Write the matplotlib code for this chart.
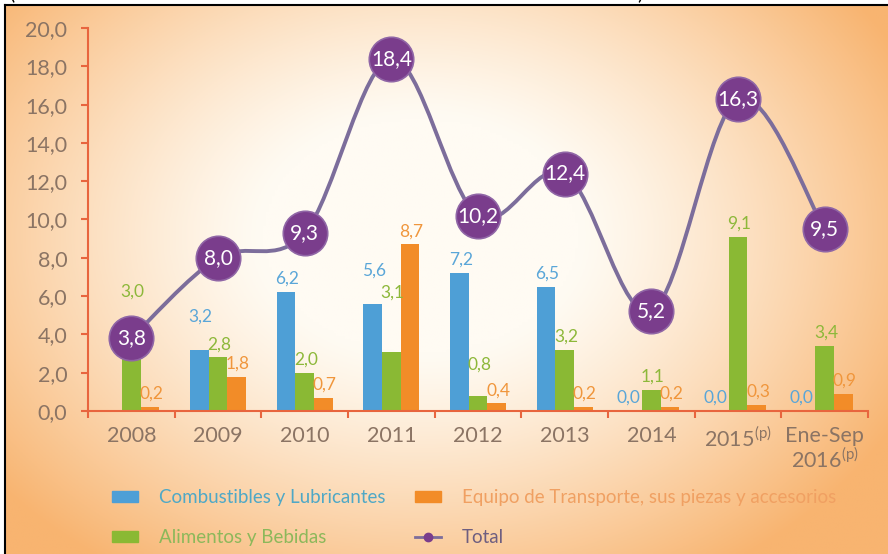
"""Importaciones por grupo de producto, 2008 - Ene-Sep 2016"""

import numpy as np
import matplotlib.pyplot as plt
from matplotlib.path import Path
from matplotlib.patches import PathPatch, Patch
from matplotlib.lines import Line2D
from matplotlib.ticker import FuncFormatter

YEARS = ["2008", "2009", "2010", "2011", "2012", "2013", "2014",
         "2015$^{\\mathregular{(p)}}$", "Ene-Sep\n2016$^{\\mathregular{(p)}}$"]
COMBUSTIBLES = [np.nan, 3.2, 6.2, 5.6, 7.2, 6.5, 0.0, 0.0, 0.0]
ALIMENTOS = [3.0, 2.8, 2.0, 3.1, 0.8, 3.2, 1.1, 9.1, 3.4]
EQUIPO = [0.2, 1.8, 0.7, 8.7, 0.4, 0.2, 0.2, 0.3, 0.9]
TOTAL = [3.8, 8.0, 9.3, 18.4, 10.2, 12.4, 5.2, 16.3, 9.5]

BLUE = "#4e9fd6"
GREEN = "#8ab934"
ORANGE = "#f28c28"
PURPLE = "#7a3d8c"
LINE = "#7c6d9b"
SPINE = "#e8653e"
TICK = "#8b7464"

# extra lift (points) for labels that are raised in the original to avoid overlaps
LIFT = {("c", 1): 14, ("c", 3): 14, ("a", 3): 33, ("a", 4): 13, ("a", 0): 35}

plt.rcParams["font.family"] = ["Lato", "DejaVu Sans"]
plt.rcParams["mathtext.fontset"] = "custom"
plt.rcParams["mathtext.rm"] = "Lato"


def fmt(v):
    return f"{v:.1f}".replace(".", ",")


fig = plt.figure(figsize=(8.88, 5.54), dpi=100, facecolor="white")

# background gradient inside the black frame
bg = fig.add_axes([5 / 888, 0, 1 - 5 / 888, 1 - 5 / 554], zorder=-5)
u, v = np.meshgrid(np.linspace(0, 1, 300), np.linspace(0, 1, 200))
d = np.sqrt(((u - 0.47) / 0.6) ** 2 + ((v - 0.42) / 0.72) ** 2)
t = np.clip((d - 0.3) / 0.72, 0, 1) ** 1.2
light = np.array([255, 251, 243]) / 255
dark = np.array([248, 180, 112]) / 255
img = light[None, None, :] * (1 - t[..., None]) + dark[None, None, :] * t[..., None]
bg.imshow(img, aspect="auto", extent=[0, 1, 0, 1], origin="upper")
bg.axis("off")

# frame lines and cut-off brackets from the original crop
fig.add_artist(Line2D([5 / 888, 1], [1 - 5 / 554] * 2, color="black", lw=1.5))
fig.add_artist(Line2D([5 / 888] * 2, [0, 1 - 5 / 554], color="black", lw=1.5))
fig.text(12 / 888, 1.012, "(", fontsize=14, ha="center", va="center", color="black")
fig.text(640 / 888, 1.012, ")", fontsize=14, ha="center", va="center", color="black")

ax = fig.add_axes([88 / 888, 1 - 411 / 554, 780 / 888, 383 / 554])
ax.patch.set_alpha(0)

x = np.arange(len(YEARS))
w = 0.215
ax.bar(x - w, COMBUSTIBLES, w, color=BLUE, zorder=2)
ax.bar(x, ALIMENTOS, w, color=GREEN, zorder=2)
ax.bar(x + w, EQUIPO, w, color=ORANGE, zorder=2)

for key, vals, off, col in [("c", COMBUSTIBLES, -w, "#5aa6d8"), ("a", ALIMENTOS, 0, "#8db83a"),
                            ("e", EQUIPO, w, "#f0963c")]:
    for i, (xi, val) in enumerate(zip(x, vals)):
        if np.isnan(val):
            continue
        dx = -3 if val == 0 else 1
        dy = 9.5 + LIFT.get((key, i), 0)
        ax.annotate(fmt(val), (xi + off, val), xytext=(dx, dy), textcoords="offset points",
                    ha="center", va="center", fontsize=12.5, color=col, zorder=3)

# smooth total line (Catmull-Rom through the points)
pts = np.column_stack([x, TOTAL]).astype(float)
ext = np.vstack([pts[0], pts, pts[-1]])
verts = [pts[0]]
codes = [Path.MOVETO]
for i in range(len(pts) - 1):
    p0, p1, p2, p3 = ext[i], ext[i + 1], ext[i + 2], ext[i + 3]
    verts += [p1 + (p2 - p0) / 6, p2 - (p3 - p1) / 6, p2]
    codes += [Path.CURVE4] * 3
ax.add_patch(PathPatch(Path(verts, codes), facecolor="none", edgecolor=LINE,
                       lw=2.8, zorder=4))
ax.plot(x, TOTAL, "o", ms=32, color=PURPLE, mec="#9066a6", mew=1.2, zorder=5)
for xi, val in zip(x, TOTAL):
    ax.text(xi, val, fmt(val), ha="center", va="center", color="white",
            fontsize=15, zorder=6)

ax.set_xlim(-0.5, len(YEARS) - 0.5)
ax.set_ylim(0, 20)
ax.set_yticks(np.arange(0, 21, 2))
ax.yaxis.set_major_formatter(FuncFormatter(lambda v, p: fmt(v)))
ax.set_xticks(x)
ax.set_xticklabels(YEARS, linespacing=1.05)
ax.set_xticks(np.arange(-0.5, len(YEARS), 1), minor=True)
ax.tick_params(axis="x", which="major", length=0, pad=11, labelsize=15.5, labelcolor=TICK)
ax.tick_params(axis="x", which="minor", length=5, width=1.5, color=SPINE)
ax.tick_params(axis="y", length=5, width=1.5, color=SPINE, pad=10, labelsize=15.5,
               labelcolor=TICK)
for s in ["top", "right"]:
    ax.spines[s].set_visible(False)
for s in ["left", "bottom"]:
    ax.spines[s].set_color(SPINE)
    ax.spines[s].set_linewidth(1.5)

# legend, two columns placed separately
common = dict(frameon=False, handlelength=1.4, handleheight=0.5, handletextpad=1.1,
              labelspacing=1.25, borderpad=0, borderaxespad=0, fontsize=13.5)
fig.legend([Patch(color=BLUE), Patch(color=GREEN)],
           ["Combustibles y Lubricantes", "Alimentos y Bebidas"],
           loc="upper left", bbox_to_anchor=(112 / 888, 1 - 489 / 554),
           labelcolor=["#4fa8c6", "#8cb85a"], **common)
fig.legend([Patch(color=ORANGE),
            Line2D([], [], color=LINE, lw=2, marker="o", ms=6, mfc=PURPLE, mec=PURPLE)],
           ["Equipo de Transporte, sus piezas y accesorios", "Total"],
           loc="upper left", bbox_to_anchor=(415 / 888, 1 - 489 / 554),
           labelcolor=["#f0a062", "#6e5e80"], **common)

fig.savefig("out.png", dpi=100)
